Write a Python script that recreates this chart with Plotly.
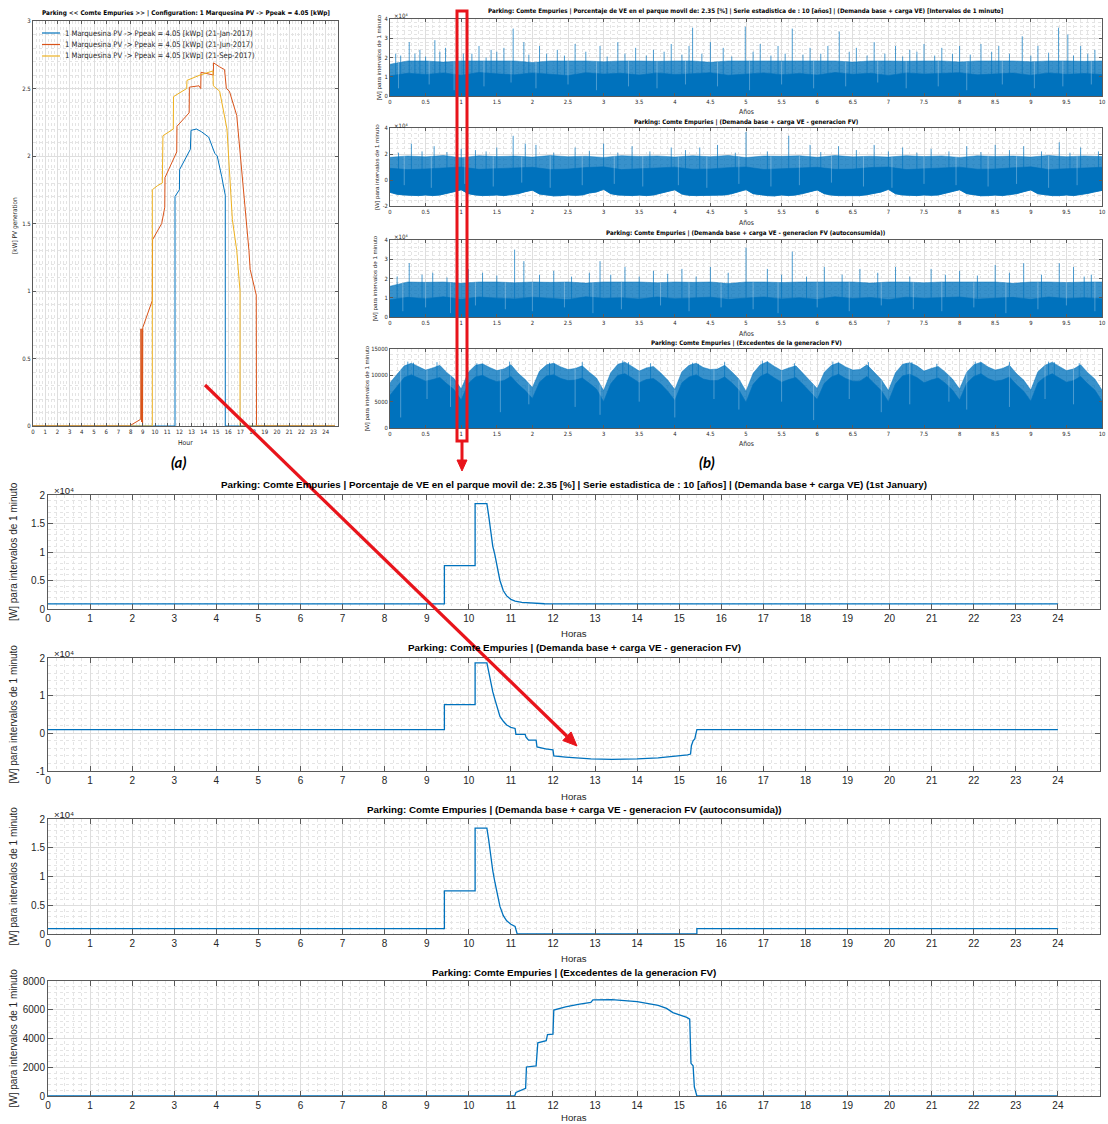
import numpy as np
import plotly.graph_objects as go

W, H = 1108, 1124
def px(x): return x / W
def py(y): return 1 - y / H

BLUE = '#0072BD'; ORANGE = '#D95319'; YELLOW = '#EDB120'
MED = 'rgba(0,114,189,0.78)'
GAP = 'rgba(255,255,255,0.38)'
GRID = '#dedede'; MINOR = '#e4e4e4'; AXC = '#5a5a5a'; TXT = '#262626'
NARROW = 'Liberation Sans Narrow, DejaVu Sans Condensed, Liberation Sans, Arial, sans-serif'
REG = 'Liberation Sans, Arial, sans-serif'

# ---------------- (a) PV generation, kW vs hour ----------------
jan_h = [0, 11.64, 11.64, 12.0, 12.02, 12.9, 12.95, 13.4, 13.8, 14.4, 14.9, 15.1, 15.46, 15.76, 15.76, 24.75]
jan_kw = [0, 0, 1.70, 1.75, 1.90, 2.05, 2.19, 2.20, 2.18, 2.14, 2.02, 2.0, 1.85, 1.71, 0, 0]
jun_h = [0, 7.9, 8.83, 8.85, 8.9, 8.95, 8.98, 9.0, 9.78, 9.8, 10.55, 10.8, 10.82, 11.78, 11.8, 12.8,
         12.82, 13.6, 13.75, 13.77, 14.78, 14.8, 15.3, 15.7, 15.85, 16.1, 16.7, 17.5, 17.7, 17.8, 18.3, 18.32, 24.75]
jun_kw = [0, 0, 0.05, 0.72, 0.03, 0.72, 0.0, 0.73, 0.93, 1.38, 1.50, 1.62, 1.84, 2.03, 2.22, 2.32,
          2.51, 2.52, 2.50, 2.62, 2.60, 2.69, 2.66, 2.64, 2.50, 2.48, 2.30, 1.53, 1.30, 1.16, 0.97, 0, 0]
sep_h = [0, 9.78, 9.78, 10.2, 10.6, 10.65, 11.5, 11.52, 12.6, 12.62, 13.7, 14.5, 14.75, 14.78, 15.3,
         15.9, 16.34, 16.7, 16.9, 16.97, 16.97, 24.75]
sep_kw = [0, 0, 1.75, 1.78, 1.80, 2.15, 2.20, 2.44, 2.50, 2.56, 2.60, 2.62, 2.63, 2.52, 2.48,
          2.2, 1.53, 1.30, 1.05, 1.0, 0, 0]
legend_labels = ['1 Marquesina PV -> Ppeak = 4.05 [kWp] (21-Jan-2017)',
                 '1 Marquesina PV -> Ppeak = 4.05 [kWp] (21-Jun-2017)',
                 '1 Marquesina PV -> Ppeak = 4.05 [kWp] (21-Sep-2017)']

# ---------------- (b) 10-year series (envelopes read in kW) ----------------
b1_top_kw = [16.5,18.2,18.2,17.6,18.2,18.2,18.0,18.2,17.4,18.2,18.2,18.2,17.8,18.2,18.2,18.0,18.2,18.2,17.5,18.2,
             18.2,18.2,17.9,18.2,18.2,18.2,17.6,18.2,18.2,18.0,18.2,18.2,17.7,18.2,18.2,18.2,17.8,18.2,18.2,18.0,18.2]
b1_core_kw = [10.5,11.8,11.2,12.0,10.8,12.2,11.5,11.0,12.0,11.3,10.6,12.1,11.4,11.8,10.9,12.0,11.2,11.6,12.1,10.8,
              11.5,12.0,11.1,11.7,10.9,12.2,11.3,11.8,10.7,12.0,11.4,11.6,12.1,11.0,11.5,11.9,10.8,12.0,11.3,11.7,11.2]
b1_spk_x = [0.08,0.27,0.42,0.63,0.78,1.03,1.25,1.42,1.6,1.73,1.88,2.1,2.35,2.6,2.95,3.2,3.45,3.7,3.95,4.2,4.25,
            4.5,4.68,4.99,5.2,5.45,5.65,5.9,6.15,6.31,6.55,6.8,7.1,7.3,7.5,7.75,8.0,8.3,8.55,8.88,9.1,9.39,9.52,9.7,9.9,
            0.15,0.35,0.5,0.7,0.95,1.15,1.35,1.5,1.95,2.2,2.45,2.75,3.05,3.3,3.6,3.85,4.1,4.38,4.8,5.1,5.35,5.55,
            5.8,6.05,6.45,6.7,6.95,7.2,7.4,7.65,7.9,8.15,8.45,8.7,9.0,9.25,9.6,9.8]
b1_spk_kw = [22,28,24,29,25,22,26,24,25,35,28,26,24,27,26,28,25,24,27,26,35.5,
             28,25,36,27,26,35,25,26,33.5,25,28,26,24,27,25,26,27,26,31,26,35.5,32,26,24,
             21,22,20.5,23,21,22,20,23,21.5,22,21,23,20.5,22,21,23,21.5,22,20.5,23,21,22,
             21.5,22,23,21,22,20.5,23,21,22,21.5,23,22,21,22.5,21,22]
b1_gap_x = [0.12,0.55,0.9,1.32,1.7,2.05,2.5,2.9,3.35,3.75,4.15,4.6,5.05,5.5,5.95,6.4,6.85,7.25,7.7,8.1,8.6,9.05,9.45,9.85]
b1_gap_kw = [4,6,3,5,7,4,6,3,5,4,6,5,3,6,4,5,7,4,5,3,6,4,5,6]

b2_low_kw = [-9.5,-11,-11.5,-12,-12,-11.5,-12,-11.5,-10.5,-9,
             -7.5,-10.5,-11.5,-12,-11.8,-11.5,-12,-11.2,-10.5,-9,
             -7.8,-10.8,-11.5,-12.2,-12,-11.5,-11.8,-11.5,-10,-9.2,
             -7.2,-10.5,-11.5,-12,-12,-11.6,-12,-11.5,-10.2,-8.8,
             -7.5,-10.8,-11.8,-12,-12,-11.5,-11.8,-11.5,-10.5,-9,
             -7.4,-10.5,-11.5,-12,-12.2,-11.5,-12,-11.5,-10.4,-9,
             -7.6,-10.5,-11.6,-12,-12,-11.5,-12,-11.3,-10.5,-9.2,
             -7.2,-10.6,-11.5,-12,-12,-11.5,-11.8,-11.5,-10.2,-9,
             -7.5,-10.5,-11.5,-12.1,-12,-11.6,-12,-11.5,-10.5,-9,
             -7.6,-10.6,-11.5,-12,-12,-11.5,-12,-11.4,-10.3,-9.1,
             -8]
b2_core_kw = [9.0,8.0,8.5,9.5,10.0,8.2,8.6,9.4,9.8,8.1,8.4,9.6,10.1,8.0,8.7,9.3,9.9,8.3,8.5,9.5,
              10.0,8.1,8.6,9.4,9.8,8.2,8.4,9.6,10.0,8.0,8.7,9.5,9.9,8.3,8.5,9.4,10.1,8.1,8.6,9.5,9.8]
b2_top_kw = [17.5,18.5,17.8,18.8,17.2,18.6,18.0,18.4,17.6,18.8,17.9,18.3,17.4,18.7,18.1,18.5,17.7,18.6,17.9,18.9,
             17.3,18.4,18.2,18.6,17.5,18.8,17.8,18.3,17.6,18.7,18.0,18.5,17.4,18.6,18.1,18.4,17.7,18.8,17.9,18.5,18.0]
b2_spk_x = [0.3,0.62,1.0,1.5,1.73,1.9,2.05,2.6,3.0,3.4,3.95,4.35,4.6,5.0,5.6,5.9,6.3,6.8,7.2,7.6,8.1,8.5,8.9,9.4,9.7,9.95,
            0.12,0.45,0.8,1.2,1.35,2.3,2.8,3.2,3.65,4.15,4.85,5.3,6.05,6.55,7.0,7.4,7.85,8.3,8.7,9.15,9.55]
b2_spk_kw = [28,26,24,25,34,28,27,25,28,26,25,25,27,37,34,27,26,27,25,24,26,27,26,29,25,22,
             21,22,21.5,23,22,21,22.5,21,22,23,21,22,21.5,23,22,21,22,21.5,23,22,21]
b2_gap_x = [0.2,0.58,1.05,1.45,1.85,2.25,2.7,3.15,3.55,4.05,4.45,4.9,5.35,5.75,6.2,6.65,7.05,7.5,7.95,8.4,8.8,9.25,9.65]
b2_gap_kw = [-4,-6,-3,-5,-2,-6,-4,-3,-5,-4,-6,-3,-5,-4,-2,-5,-6,-3,-4,-5,-3,-6,-4]

b3_top_kw = [16.0,18.2,18.0,18.2,17.5,18.2,18.2,17.8,18.2,18.0,18.2,17.6,18.2,18.2,18.2,17.8,18.2,18.0,18.2,17.4,
             18.2,18.2,17.9,18.2,18.2,18.0,18.2,17.6,18.2,18.2,17.8,18.2,18.2,18.0,18.2,17.5,18.2,18.2,17.9,18.2,18.2]
b3_core_kw = [9.0,10.2,9.5,10.5,9.2,10.4,9.8,9.4,10.3,9.6,9.1,10.5,9.7,10.0,9.3,10.4,9.5,9.9,10.3,9.2,
              9.8,10.4,9.4,10.0,9.2,10.5,9.6,10.1,9.1,10.3,9.7,9.9,10.4,9.3,9.8,10.2,9.2,10.4,9.6,10.0,9.5]
b3_spk_x = [0.27,0.6,0.95,1.1,1.75,1.88,2.3,2.95,3.3,3.7,4.1,4.5,5.0,5.3,5.65,6.1,6.6,7.1,7.6,8.0,8.5,8.9,9.4,9.6,9.85,
            0.1,0.45,0.8,1.3,1.5,2.1,2.55,2.8,3.1,3.5,3.9,4.3,4.75,5.5,5.85,6.35,6.85,7.3,7.8,8.25,8.7,9.15,9.75]
b3_spk_kw = [28,23,24,25,35,29,24,29,26,24,25,26,36,25,34,26,25,26,25,24,27,28,28,26,22,
             21,22,20.5,23,21.5,22,21,23,22,21,22.5,21,23,22,21,22,23,21,22,21.5,23,22,21]
b3_gap_x = [0.18,0.5,0.85,1.2,1.62,2.0,2.45,2.85,3.25,3.8,4.2,4.65,5.1,5.45,6.0,6.45,6.9,7.35,7.75,8.2,8.65,9.1,9.5,9.9]
b3_gap_kw = [3,5,2,6,4,3,5,2,4,6,3,5,4,2,5,3,6,4,3,5,2,4,6,3]

b4_top_kw = [8.6,10.2,11.8,12.3,11.7,11.0,11.4,11.9,10.5,9.4,
             7.4,10.6,11.9,12.2,11.5,10.9,11.2,12.0,10.4,9.2,
             7.7,10.8,12.0,12.3,11.6,11.1,11.3,11.8,10.6,9.5,
             7.1,10.5,12.1,12.5,11.7,10.8,11.4,11.7,10.5,9.1,
             7.3,10.7,11.9,12.3,11.5,11.1,11.2,11.9,10.7,9.3,
             7.0,10.4,12.0,12.6,11.7,10.9,11.4,11.8,10.4,9.0,
             7.5,10.6,11.9,12.4,11.6,11.0,11.1,12.0,10.5,9.2,
             7.1,10.5,12.1,12.4,11.8,10.8,11.3,11.7,10.6,9.3,
             7.4,10.6,12.0,12.5,11.6,11.0,11.3,11.9,10.3,9.1,
             7.2,10.7,11.9,12.5,11.7,10.9,11.2,12.0,10.5,9.3,
             7.2]
b4_core_kw = [6.2,8.0,9.6,10.1,9.5,8.9,9.2,9.6,8.4,7.3,
              5.3,8.5,9.7,10.0,9.3,8.8,9.0,9.8,8.3,7.1,
              5.6,8.7,9.9,10.1,9.4,9.0,9.1,9.5,8.5,7.4,
              5.0,8.4,10.0,10.3,9.5,8.6,9.2,9.4,8.4,7.0,
              5.2,8.6,9.7,10.1,9.3,9.0,9.0,9.7,8.6,7.2,
              4.9,8.3,9.8,10.4,9.5,8.7,9.2,9.6,8.3,6.9,
              5.4,8.5,9.7,10.2,9.4,8.9,8.9,9.8,8.4,7.1,
              5.0,8.4,9.9,10.2,9.6,8.6,9.1,9.5,8.5,7.2,
              5.3,8.5,9.8,10.3,9.4,8.9,9.1,9.7,8.2,7.0,
              5.1,8.6,9.7,10.3,9.5,8.7,9.0,9.8,8.4,7.2,
              5.1]
b4_spk_x = [0.25,0.33,0.66,1.22,1.3,1.68,2.24,2.31,2.7,3.27,3.35,3.66,4.25,4.33,4.7,5.23,5.3,5.68,
            6.22,6.3,6.72,7.25,7.33,7.68,8.22,8.3,8.7,9.25,9.33,9.68]
b4_spk_kw = [12.6,12.4,12.5,12.3,12.1,12.6,12.4,12.2,12.5,12.8,12.5,12.3,12.4,12.2,12.5,12.8,12.6,12.3,
             12.6,12.4,12.5,12.3,12.5,12.2,12.6,12.4,12.5,12.6,12.5,12.3]
b4_gap_x = [0.15,0.52,0.85,1.55,1.95,2.6,2.95,3.5,4.0,4.55,4.9,5.5,5.95,6.45,6.9,7.3,7.85,8.1,8.7,9.2,9.6]
b4_gap_kw = [2.0,5.5,4.0,3.0,4.5,4.0,2.5,5.0,2.0,5.5,3.5,5.0,1.5,5.5,3.0,4.5,5.0,3.5,4.0,5.5,4.5]

# ---------------- (c) 1st January, W vs hour ----------------
c1_h = [0, 9.42, 9.42, 10.15, 10.15, 10.43, 10.47, 10.52, 10.57, 10.62, 10.68, 10.74, 10.82, 10.9, 11.0, 11.1, 11.26, 11.5, 11.8, 24]
c1_w = [900, 900, 7600, 7600, 18500, 18500, 16500, 13500, 11000, 9500, 7000, 5000, 3200, 2300, 1700, 1400, 1150, 1000, 920, 900]
c2_h = [0, 9.42, 9.42, 10.15, 10.15, 10.43, 10.47, 10.52, 10.57, 10.62, 10.68, 10.74, 10.82, 10.9, 11.0, 11.1, 11.12,
        11.34, 11.36, 11.42, 11.6, 11.62, 11.85, 11.87, 12.0, 12.02, 12.3, 12.6, 12.9, 13.4, 14.0, 14.5, 14.9, 15.2,
        15.27, 15.29, 15.33, 15.37, 15.42, 24]
c2_w = [970, 970, 7600, 7600, 18700, 18700, 16500, 13500, 11000, 9000, 6800, 4500, 3200, 2200, 1600, 1300, -300,
        -300, -1000, -1800, -1800, -3600, -4200, -4200, -4400, -6000, -6300, -6500, -6800, -6900, -6800, -6500, -6100, -5700,
        -5500, -3300, -2000, -1500, 970, 970]
c3_h = [0, 9.42, 9.42, 10.15, 10.15, 10.43, 10.47, 10.52, 10.57, 10.62, 10.68, 10.74, 10.82, 10.9, 11.0, 11.1, 11.15, 15.42, 15.42, 24]
c3_w = [950, 950, 7500, 7500, 18400, 18400, 16500, 13500, 11000, 9000, 6800, 4800, 3200, 2300, 1700, 1300, 0, 0, 950, 950]
c4_h = [0, 11.09, 11.12, 11.35, 11.37, 11.6, 11.64, 11.84, 11.87, 12.0, 12.02, 12.3, 12.6, 12.9, 12.95, 13.4, 14.0,
        14.5, 14.7, 14.85, 15.18, 15.25, 15.28, 15.33, 15.36, 15.42, 24]
c4_w = [0, 0, 250, 530, 2020, 2100, 3700, 3850, 4270, 4300, 5980, 6200, 6380, 6510, 6690, 6700, 6560,
        6300, 6090, 5800, 5470, 5350, 2270, 2100, 640, 0, 0]

hour_ticks = list(range(0, 25))
year_ticks = [i * 0.5 for i in range(21)]
year_ticktext = [('%g' % v) for v in year_ticks]

# ---------------- figure ----------------
fig = go.Figure()

def xy(i):
    return ('x' if i == 1 else f'x{i}'), ('y' if i == 1 else f'y{i}')

def W_(arr):
    return [v * 1000 for v in arr]

def grid_of(arr):
    return np.linspace(0, 10, len(arr))

def spikes(xs, hs):
    sx, sy = [], []
    for a, b in zip(xs, hs):
        sx += [a, a, None]; sy += [0, b * 1000, None]
    return sx, sy

def gaps(xs, lows, top):
    gx, gy = [], []
    tops = np.interp(xs, grid_of(top), top)
    for a, lo, hi in zip(xs, lows, tops):
        gx += [a, a, None]; gy += [lo * 1000, hi * 1000, None]
    return gx, gy

def line_tr(i, x, y, color, width, **kw):
    xa, ya = xy(i)
    fig.add_trace(go.Scatter(x=x, y=y, mode='lines', line=dict(color=color, width=width), xaxis=xa, yaxis=ya,
                             showlegend=False, hoverinfo='skip', **kw))

# (a)
for h, v, c, nm in [(jan_h, jan_kw, BLUE, legend_labels[0]), (jun_h, jun_kw, ORANGE, legend_labels[1]),
                    (sep_h, sep_kw, YELLOW, legend_labels[2])]:
    line_tr(1, h, v, c, 1, name=nm)

# b1 / b3
for i, top, core, sx_, sk, gx_, gk in [(2, b1_top_kw, b1_core_kw, b1_spk_x, b1_spk_kw, b1_gap_x, b1_gap_kw),
                                       (4, b3_top_kw, b3_core_kw, b3_spk_x, b3_spk_kw, b3_gap_x, b3_gap_kw)]:
    sx, sy = spikes(sx_, sk)
    line_tr(i, sx, sy, MED, 0.9)
    line_tr(i, grid_of(top), W_(top), MED, 0.6, fill='tozeroy', fillcolor=MED)
    line_tr(i, grid_of(core), W_(core), BLUE, 0.6, fill='tozeroy', fillcolor=BLUE)
    gx, gy = gaps(gx_, gk, top)
    line_tr(i, gx, gy, GAP, 0.8)

# b2
sx, sy = spikes(b2_spk_x, b2_spk_kw)
line_tr(3, sx, sy, MED, 0.9)
line_tr(3, grid_of(b2_low_kw), W_(b2_low_kw), BLUE, 0.6)
line_tr(3, grid_of(b2_top_kw), W_(b2_top_kw), MED, 0.6, fill='tonexty', fillcolor=MED)
line_tr(3, grid_of(b2_low_kw), W_(b2_low_kw), BLUE, 0.6)
line_tr(3, grid_of(b2_core_kw), W_(b2_core_kw), BLUE, 0.6, fill='tonexty', fillcolor=BLUE)
gx, gy = gaps(b2_gap_x, b2_gap_kw, b2_top_kw)
line_tr(3, gx, gy, GAP, 0.8)

# b4
sx, sy = spikes(b4_spk_x, b4_spk_kw)
line_tr(5, sx, sy, MED, 0.9)
line_tr(5, grid_of(b4_top_kw), W_(b4_top_kw), MED, 0.6, fill='tozeroy', fillcolor=MED)
line_tr(5, grid_of(b4_core_kw), W_(b4_core_kw), BLUE, 0.6, fill='tozeroy', fillcolor=BLUE)
gx, gy = gaps(b4_gap_x, b4_gap_kw, b4_top_kw)
line_tr(5, gx, gy, GAP, 0.8)

# c panels
for i, h, w in [(6, c1_h, c1_w), (7, c2_h, c2_w), (8, c3_h, c3_w), (9, c4_h, c4_w)]:
    line_tr(i, h, w, BLUE, 1.3)

# ---------------- axes ----------------
layout = {}
def set_axes(i, xpx, ypx, xr, yr, xtv, xtt, ytv, ytt, xminor, yminor, fsize, ffam, ticklen):
    kx = 'xaxis' if i == 1 else f'xaxis{i}'
    ky = 'yaxis' if i == 1 else f'yaxis{i}'
    xa, ya = xy(i)
    common = dict(showgrid=True, gridcolor=GRID, gridwidth=1, zeroline=False, showline=True, linecolor=AXC,
                  linewidth=1, mirror='ticks', ticks='inside', ticklen=ticklen, tickcolor=AXC, automargin=False,
                  ticklabeloverflow='allow',
                  tickfont=dict(size=fsize, family=ffam, color=TXT), tickmode='array', fixedrange=True)
    layout[kx] = dict(common, domain=[px(xpx[0]), px(xpx[1])], range=xr, tickvals=xtv, ticktext=xtt, anchor=ya,
                      minor=dict(tickmode='linear', tick0=0, dtick=xminor, showgrid=True, gridcolor=MINOR,
                                 griddash='dot', ticks=''))
    layout[ky] = dict(common, domain=[py(ypx[1]), py(ypx[0])], range=yr, tickvals=ytv, ticktext=ytt, anchor=xa,
                      minor=dict(tickmode='linear', tick0=0, dtick=yminor, showgrid=True, gridcolor=MINOR,
                                 griddash='dot', ticks=''))

set_axes(1, (33, 338), (21, 426), [0, 25], [0, 3], hour_ticks, [str(v) for v in hour_ticks],
         [0, 0.5, 1, 1.5, 2, 2.5, 3], ['0', '0.5', '1', '1.5', '2', '2.5', '3'], 0.25, 0.1, 6, NARROW, 3)
BX = (390, 1102)
set_axes(2, BX, (19, 96), [0, 10], [0, 40000], year_ticks, year_ticktext,
         [0, 10000, 20000, 30000, 40000], ['0', '1', '2', '3', '4'], 0.1, 2000, 5.8, NARROW, 3)
set_axes(3, BX, (128, 206), [0, 10], [-20000, 40000], year_ticks, year_ticktext,
         [-20000, 0, 20000, 40000], ['-2', '0', '2', '4'], 0.1, 4000, 5.8, NARROW, 3)
set_axes(4, BX, (240, 317), [0, 10], [0, 40000], year_ticks, year_ticktext,
         [0, 10000, 20000, 30000, 40000], ['0', '1', '2', '3', '4'], 0.1, 2000, 5.8, NARROW, 3)
set_axes(5, BX, (349, 428), [0, 10], [0, 15000], year_ticks, year_ticktext,
         [0, 5000, 10000, 15000], ['0', '5000', '10000', '15000'], 0.1, 1000, 5.8, NARROW, 3)
CX = (48, 1100)
set_axes(6, CX, (495, 609), [0, 25], [0, 20000], hour_ticks, [str(v) for v in hour_ticks],
         [0, 5000, 10000, 15000, 20000], ['0', '0.5', '1', '1.5', '2'], 0.2, 1000, 10, REG, 5)
set_axes(7, CX, (658, 771), [0, 25], [-10000, 20000], hour_ticks, [str(v) for v in hour_ticks],
         [-10000, 0, 10000, 20000], ['-1', '0', '1', '2'], 0.2, 2000, 10, REG, 5)
set_axes(8, CX, (819, 934), [0, 25], [0, 20000], hour_ticks, [str(v) for v in hour_ticks],
         [0, 5000, 10000, 15000, 20000], ['0', '0.5', '1', '1.5', '2'], 0.2, 1000, 10, REG, 5)
set_axes(9, CX, (981, 1096), [0, 25], [0, 8000], hour_ticks, [str(v) for v in hour_ticks],
         [0, 2000, 4000, 6000, 8000], ['0', '2000', '4000', '6000', '8000'], 0.2, 400, 10, REG, 5)

# ---------------- text annotations ----------------
ann = []
def txt(x, y, s, size, fam=REG, angle=0, xanchor='center', color=TXT):
    ann.append(dict(x=px(x), y=py(y), xref='paper', yref='paper', text=s, showarrow=False, textangle=angle,
                    xanchor=xanchor, yanchor='middle', font=dict(size=size, family=fam, color=color)))

txt(185.5, 13, '<b>Parking << Comte Empuries >> | Configuration: 1 Marquesina PV -> Ppeak = 4.05 [kWp]</b>', 6.4, NARROW, color='#000')
btitles = ['Parking: Comte Empuries | Porcentaje de VE en el parque movil de: 2.35 [%] | Serie estadistica de : 10 [años] | (Demanda base + carga VE) [Intervalos de 1 minuto]',
           'Parking: Comte Empuries | (Demanda base + carga VE - generacion FV)',
           'Parking: Comte Empuries | (Demanda base + carga VE - generacion FV (autoconsumida))',
           'Parking: Comte Empuries | (Excedentes de la generacion FV)']
for t, y in zip(btitles, [11, 122, 233, 343]):
    txt(746, y, f'<b>{t}</b>', 6.2, NARROW, color='#000')
ctitles = ['Parking: Comte Empuries | Porcentaje de VE en el parque movil de: 2.35 [%] | Serie estadistica de : 10 [años] | (Demanda base + carga VE) (1st January)',
           'Parking: Comte Empuries | (Demanda base + carga VE - generacion FV)',
           'Parking: Comte Empuries | (Demanda base + carga VE - generacion FV (autoconsumida))',
           'Parking: Comte Empuries | (Excedentes de la generacion FV)']
for t, y in zip(ctitles, [485, 647, 809, 972]):
    txt(574, y, f'<b>{t}</b>', 9.8, REG, color='#000')

txt(15, 226, '[kW] PV generation', 6.5, NARROW, angle=-90)
txt(185.5, 443, 'Hour', 6.8, NARROW)
for xt, yc, ya_ in zip([378, 376, 374, 366], [57.5, 167, 278.5, 388.5], [112, 223, 334, 444]):
    txt(xt, yc, '[W] para intervalos de 1 minuto', 6.2, REG, angle=-90)
    txt(746, ya_, 'Años', 6.8, NARROW)
for yc, ya_ in zip([552, 714.5, 876.5, 1038.5], [633, 796, 958, 1117]):
    txt(13, yc, '[W] para intervalos de 1 minuto', 10, REG, angle=-90)
    txt(574, ya_, 'Horas', 9.6, REG)

for y in [15, 125, 236]:
    txt(392, y, '×10⁴', 6, NARROW, xanchor='left')
for y in [490, 653, 814]:
    txt(52, y, '×10⁴', 9.5, REG, xanchor='left')

shapes = []
for lab, c, y in zip(legend_labels, [BLUE, ORANGE, YELLOW], [33, 44.5, 56]):
    shapes.append(dict(type='line', xref='paper', yref='paper', x0=px(42), x1=px(60), y0=py(y), y1=py(y),
                       line=dict(color=c, width=1.2)))
    txt(63, y, lab, 7.6, NARROW, xanchor='left')

txt(178, 462, '<b><i>(a)</i></b>', 15, 'Lato, Open Sans, sans-serif', color='#000')
txt(707, 462, '<b><i>(b)</i></b>', 15, 'Lato, Open Sans, sans-serif', color='#000')

# red highlight rectangle and arrows (drawn as shapes)
RED = '#e8141b'
shapes.append(dict(type='rect', xref='paper', yref='paper', x0=px(457), x1=px(467), y0=py(441), y1=py(11),
                   line=dict(color=RED, width=3), layer='above'))

def arrow(tail, tip, width, head_len, head_half):
    t = np.array(tail, float); p = np.array(tip, float)
    u = (p - t) / np.linalg.norm(p - t)
    n = np.array([-u[1], u[0]])
    base = p - head_len * u
    c1 = base + head_half * n; c2 = base - head_half * n
    shapes.append(dict(type='line', xref='paper', yref='paper', x0=px(t[0]), y0=py(t[1]), x1=px(base[0]), y1=py(base[1]),
                       line=dict(color=RED, width=width), layer='above'))
    path = 'M %f %f L %f %f L %f %f Z' % (px(p[0]), py(p[1]), px(c1[0]), py(c1[1]), px(c2[0]), py(c2[1]))
    shapes.append(dict(type='path', xref='paper', yref='paper', path=path, fillcolor=RED,
                       line=dict(color=RED, width=1), layer='above'))

arrow((462, 441), (462, 471), 3, 11, 5)
arrow((205, 385), (577, 746), 3.2, 14, 6)

fig.update_layout(**layout)
fig.update_layout(width=W, height=H, margin=dict(l=0, r=0, t=0, b=0), paper_bgcolor='white', plot_bgcolor='white',
                  showlegend=False, annotations=ann, shapes=shapes, font=dict(family=REG, color=TXT),
                  hovermode=False)
fig.write_html('out.html', config={'displayModeBar': False, 'staticPlot': True},
               post_script="document.body.style.margin='0';document.body.style.overflow='hidden';")
